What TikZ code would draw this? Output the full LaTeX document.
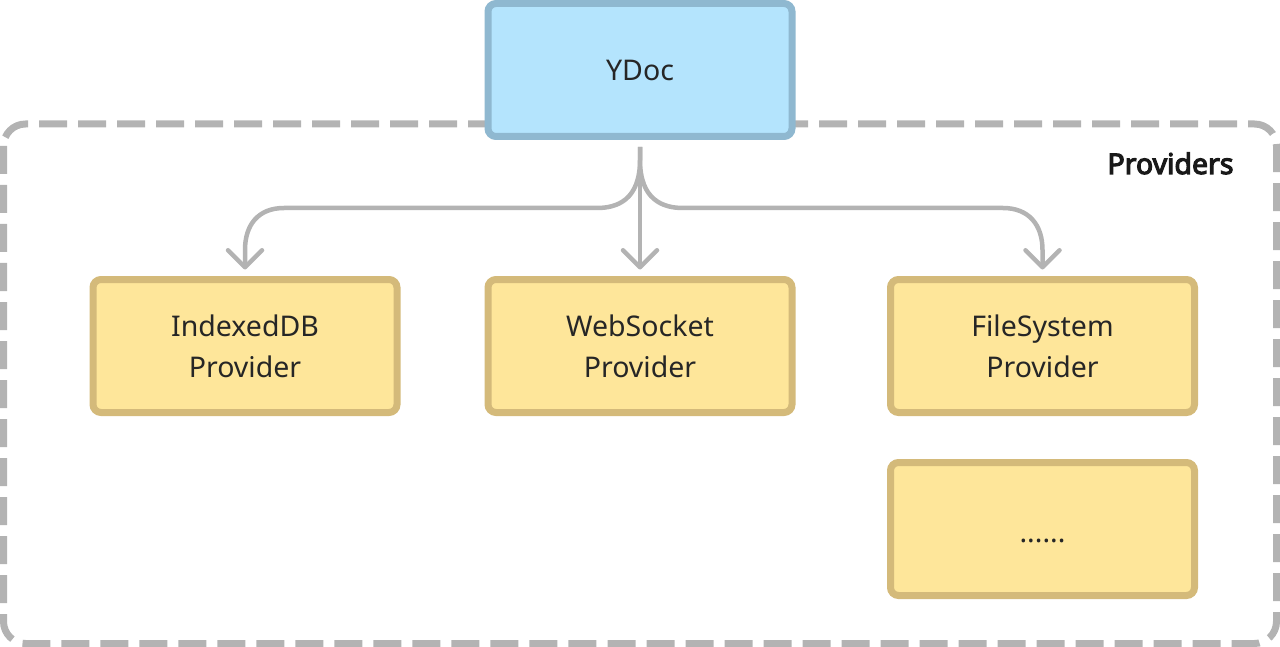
\documentclass[tikz,border=0pt]{standalone}
\usepackage{fontspec}
\setmainfont{Noto Sans}
\newfontfamily\framefont{Noto Sans}[FakeBold=4]
\usepackage{xcolor}
\usepackage{tikz}
\usetikzlibrary{positioning,arrows.meta}
\definecolor{framegray}{HTML}{B3B3B3}
\definecolor{ydocfill}{HTML}{B4E4FD}
\definecolor{ydocline}{HTML}{8FB8D0}
\definecolor{provfill}{HTML}{FEE69A}
\definecolor{provline}{HTML}{D4BA7A}
\definecolor{txtdark}{HTML}{262626}

\begin{document}
\begin{tikzpicture}[x=1pt,y=-1pt,
    box/.style={rectangle, rounded corners=8pt, line width=7pt, minimum width=304pt, minimum height=133pt, align=center, text=txtdark, font=\fontsize{28.5}{41}\selectfont},
    ydocbox/.style={box, draw=ydocline, fill=ydocfill},
    provbox/.style={box, draw=provline, fill=provfill},
    conn/.style={draw=framegray, line width=4.5pt, -{Straight Barb[length=17pt,width=34pt,round]}, shorten <=7pt, shorten >=6.5pt}]
    \useasboundingbox (0,0) rectangle (1280,647);
    % Providers frame
    \draw[framegray, line width=7pt, dash pattern=on 28pt off 11pt, rounded corners=22pt] (3.5,124) rectangle (1276.5,643.5);
    \node[anchor=base east, text=black!90, font=\framefont\fontsize{28.5}{41}\selectfont] (providers) at (1237,174) {Providers};
    % Boxes
    \node[ydocbox] (ydoc) at (640,70) {YDoc};
    \node[provbox] (indexeddb) at (245,346) {IndexedDB\\Provider};
    \node[provbox] (websocket) at (640,346) {WebSocket\\Provider};
    \node[provbox] (filesystem) at (1042.5,346) {FileSystem\\Provider};
    \node[provbox, below=43pt of filesystem, text height=26pt, text depth=0pt] (more) {......};
    % Arrows
    \draw[conn] (ydoc.south) -- (websocket.north);
    \draw[conn] (ydoc.south) -- ++(0,20) .. controls +(0,40) and +(20,0) .. (597,208) -- (284,208) .. controls +(-26,0) and +(0,-25) .. (245,250) -- (indexeddb.north);
    \draw[conn] (ydoc.south) -- ++(0,20) .. controls +(0,40) and +(-20,0) .. (683,208) -- (1003,208) .. controls +(26,0) and +(0,-25) .. (1042.5,250) -- (filesystem.north);
\end{tikzpicture}
\end{document}
